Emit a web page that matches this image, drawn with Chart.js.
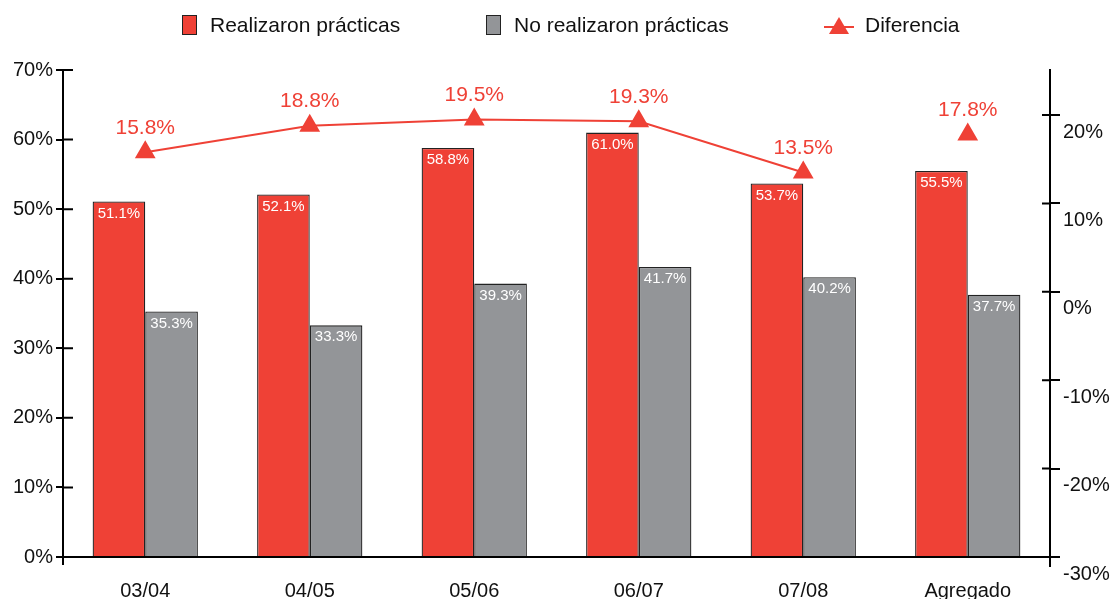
<!DOCTYPE html>
<html>
<head>
<meta charset="utf-8">
<script src="https://cdn.jsdelivr.net/npm/chart.js@4"></script>
<style>
  body { margin: 0; background: #fff; font-family: "Liberation Sans", Arial, sans-serif; }
  #wrap { position: relative; width: 1112px; height: 599px; }
  #legend { position: absolute; left: 0; top: 12px; width: 1112px; height: 26px; font-size: 21px; color: #111; }
  .item { position: absolute; top: 0; display: flex; align-items: center; height: 26px; }
  .box { width: 13px; height: 18px; border: 1px solid #222; margin-right: 13px; }
</style>
</head>
<body>
<div id="wrap">
  <canvas id="myChart"></canvas>
  <div id="legend">
    <div class="item" style="left:182px"><span class="box" style="background:#ef4136"></span>Realizaron prácticas</div>
    <div class="item" style="left:486px"><span class="box" style="background:#939598"></span>No realizaron prácticas</div>
    <div class="item" style="left:824px">
      <svg width="30" height="20" style="margin-right:11px"><line x1="0" y1="12" x2="30" y2="12" stroke="#ef4136" stroke-width="2"/><polygon points="15,2 25,19 5,19" fill="#ef4136"/></svg>Diferencia</div>
  </div>
</div>
<script>
var categories = ['03/04', '04/05', '05/06', '06/07', '07/08', 'Agregado'];
var realizaron = [51.1, 52.1, 58.8, 61.0, 53.7, 55.5];
var noRealizaron = [35.3, 33.3, 39.3, 41.7, 40.2, 37.7];
var diferencia = [15.8, 18.8, 19.5, 19.3, 13.5, 17.8];

var RED = '#ef4136';
var GREY = '#939598';
var FONT = '"Liberation Sans", Arial, sans-serif';

// value labels + inward tick marks
var extras = {
    id: 'extras',
    afterDatasetsDraw: function (chart) {
        var ctx = chart.ctx;
        ctx.save();
        ctx.textAlign = 'center';
        ctx.textBaseline = 'middle';
        ctx.font = '15px ' + FONT;
        ctx.fillStyle = '#fff';
        [0, 1].forEach(function (di) {
            chart.getDatasetMeta(di).data.forEach(function (bar, i) {
                var v = chart.data.datasets[di].data[i];
                ctx.fillText(v.toFixed(1) + '%', bar.x, bar.y + 12);
            });
        });
        ctx.font = '21px ' + FONT;
        ctx.fillStyle = RED;
        chart.getDatasetMeta(2).data.forEach(function (pt, i) {
            ctx.fillText(diferencia[i].toFixed(1) + '%', pt.x, pt.y - 24);
        });

        ctx.strokeStyle = '#000';
        ctx.lineWidth = 2;
        var y = chart.scales.y, y1 = chart.scales.y1;
        ctx.beginPath();
        y.ticks.forEach(function (t) {
            var p = y.getPixelForValue(t.value);
            ctx.moveTo(y.right, p); ctx.lineTo(y.right + 10, p);
        });
        y1.ticks.forEach(function (t) {
            var p = y1.getPixelForValue(t.value);
            ctx.moveTo(y1.left - 8, p); ctx.lineTo(y1.left, p);
        });
        var b = chart.chartArea.bottom;
        ctx.moveTo(y.right, b); ctx.lineTo(y.right, b + 8);
        ctx.moveTo(y1.left, b); ctx.lineTo(y1.left, b + 10);
        ctx.stroke();
        ctx.restore();
    }
};

var ctx = document.getElementById('myChart');
var myChart = new Chart(ctx, {
    type: 'bar',
    data: {
        labels: categories,
        datasets: [{
            label: 'Realizaron prácticas',
            data: realizaron,
            backgroundColor: RED,
            borderColor: '#222',
            borderWidth: 1.3,
            yAxisID: 'y',
            order: 2
        }, {
            label: 'No realizaron prácticas',
            data: noRealizaron,
            backgroundColor: GREY,
            borderColor: '#222',
            borderWidth: 1.3,
            yAxisID: 'y',
            order: 2
        }, {
            type: 'line',
            label: 'Diferencia',
            data: diferencia,
            borderColor: RED,
            backgroundColor: RED,
            borderWidth: 2,
            pointStyle: 'triangle',
            pointRadius: 10,
            pointHoverRadius: 10,
            yAxisID: 'y1',
            order: 1,
            segment: {
                borderColor: function (c) { return c.p1DataIndex === 5 ? 'transparent' : RED; }
            }
        }]
    },
    options: {
        responsive: true,
        maintainAspectRatio: false,
        animation: false,
        layout: { padding: { top: 70, left: 0, right: 0, bottom: 0 } },
        datasets: { bar: { categoryPercentage: 0.64, barPercentage: 1 } },
        plugins: {
            legend: { display: false },
            tooltip: { enabled: false }
        },
        scales: {
            x: {
                grid: { display: false },
                border: { color: '#000', width: 2 },
                ticks: {
                    color: '#111', padding: 14,
                    font: { size: 20, family: FONT },
                    maxRotation: 0
                },
                afterFit: function (s) { s.height = 42; }
            },
            y: {
                position: 'left',
                min: 0, max: 70,
                grid: { drawOnChartArea: false, tickLength: 7, color: '#000', lineWidth: 2 },
                border: { color: '#000', width: 2 },
                ticks: {
                    stepSize: 10, color: '#111', padding: 3,
                    font: { size: 20, family: FONT },
                    callback: function (v) { return v + '%'; }
                },
                afterFit: function (s) { s.width = 63; }
            },
            y1: {
                position: 'right',
                min: -30, max: 25.1,
                grid: { drawOnChartArea: false, tickLength: 10, color: '#000', lineWidth: 2 },
                border: { color: '#000', width: 2 },
                ticks: {
                    stepSize: 10, color: '#111', padding: 3, labelOffset: 17,
                    font: { size: 20, family: FONT },
                    callback: function (v) { return v + '%'; }
                },
                afterBuildTicks: function (s) {
                    s.ticks = s.ticks.filter(function (t) { return t.value <= 20.001; });
                },
                afterFit: function (s) { s.width = 62; }
            }
        }
    },
    plugins: [extras]
});
</script>
</body>
</html>
